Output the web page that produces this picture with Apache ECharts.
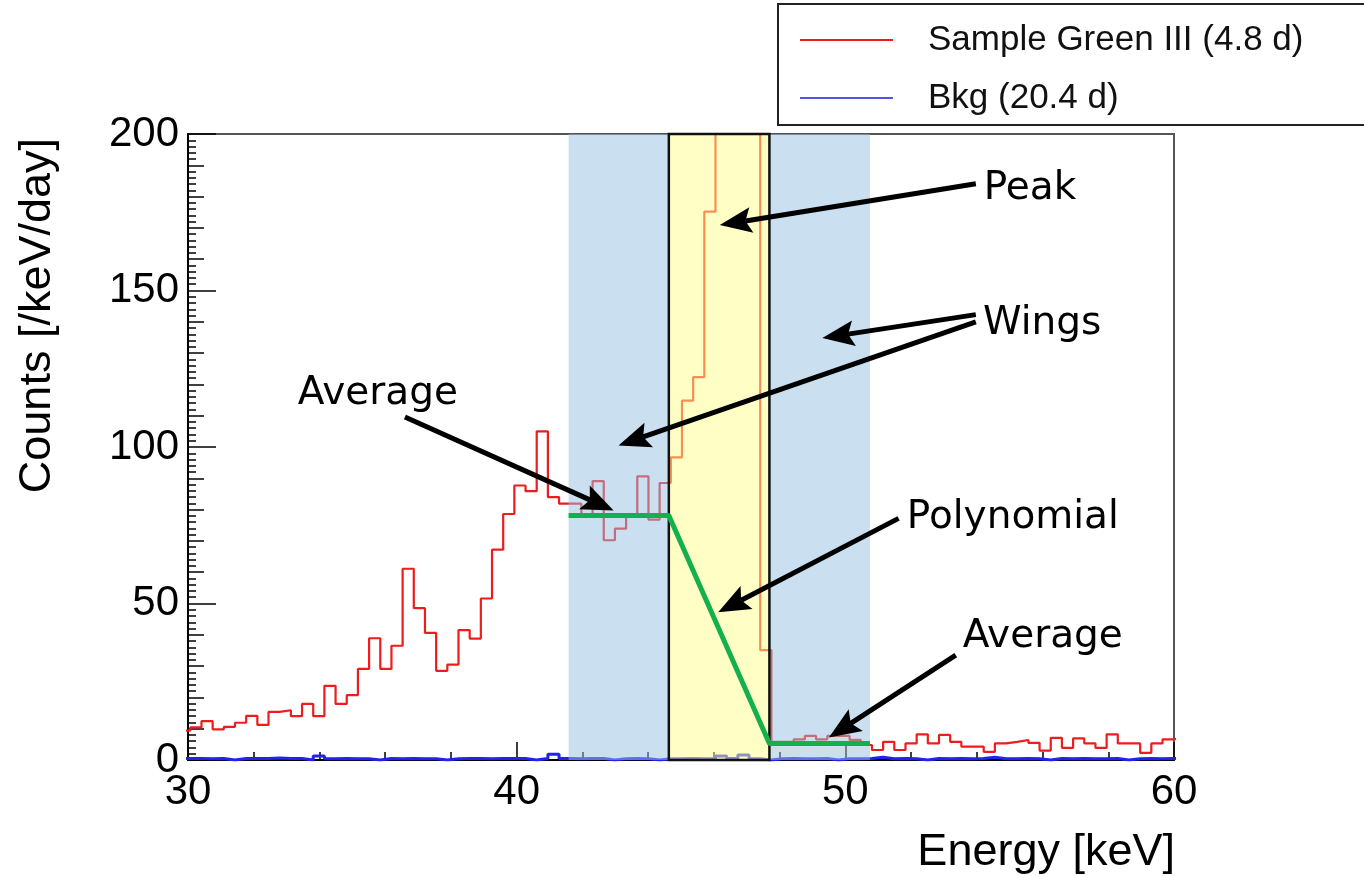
<!DOCTYPE html>
<html>
<head>
<meta charset="utf-8">
<script src="https://cdn.jsdelivr.net/npm/echarts@6/dist/echarts.min.js"></script>
<style>
  html, body { margin: 0; padding: 0; background: #fff; }
  #chart { width: 1364px; height: 876px; }
</style>
</head>
<body>
<div id="chart"></div>
<script>
// Histogram binning (keV)
const binStart = 29.73;
const binWidth = 0.34;

// Sample spectrum, counts per keV per day, one value per bin
const sampleCounts = [
  9.4, 10.4, 12.4, 9.8, 10.6, 11.9, 14.1, 11.2, 15.4, 15.9,
  14.0, 17.9, 14.0, 23.7, 17.9, 20.7, 29.1, 38.9, 29.1, 36.5,
  61.1, 48.5, 40.6, 28.5, 30.5, 41.5, 38.8, 51.6, 67.2, 78.6,
  87.7, 85.9, 105.0, 84.0, 81.9, 81.9, 78.6, 89.1, 70.2, 73.9,
  78.6, 90.6, 76.8, 88.5, 96.7, 114.8, 122.3, 175.2, 260, 330,
  320, 240, 35.1, 5.8, 5.8, 6.6, 7.7, 6.6, 7.7, 7.7,
  6.4, 4.8, 3.2, 5.8, 3.2, 5.3, 8.2, 5.3, 8.0, 5.8,
  4.3, 4.3, 2.6, 5.3, 5.8, 6.4, 5.5, 3.0, 7.1, 3.9,
  6.9, 5.3, 3.9, 8.2, 5.3, 5.3, 2.3, 5.3, 6.6, 7.2
];

// Background spectrum, same binning
const bkgCounts = [
  0.5, 0.5, 0.4, 0.5, 0.0, 0.5, 0.5, 0.5, 0.6, 0.5,
  0.5, 0.0, 1.3, 0.4, 0.5, 0.4, 0.4, 0.0, 0.5, 0.4,
  0.5, 0.4, 0.4, 0.0, 0.4, 0.5, 0.5, 0.4, 0.5, 0.5,
  0.5, 0.0, 0.5, 1.8, 0.5, 0.4, 0.5, 0.5, 0.0, 0.4,
  0.5, 0.4, 0.0, 0.4, 0.4, 0.5, 0.4, 0.5, 1.3, 0.5,
  1.6, 0.4, 0.0, 0.4, 0.5, 0.4, 0.4, 0.5, 0.0, 0.4,
  0.4, 0.5, 0.9, 0.4, 0.5, 0.4, 0.0, 0.5, 0.4, 0.5,
  0.4, 0.5, 0.9, 0.4, 0.4, 0.5, 0.4, 0.0, 0.5, 0.4,
  0.5, 0.4, 0.4, 0.5, 0.0, 0.4, 0.5, 0.4, 0.5, 0.4
];

const sampleName = 'Sample Green III (4.8 d)';
const bkgName = 'Bkg (20.4 d)';

// Energy windows (keV)
const wingLow = [41.58, 44.63];
const peakWindow = [44.63, 47.69];
const wingHigh = [47.69, 50.75];

// Background estimate under the peak: averages in the wings joined by a polynomial
const polyX = [41.58, 44.63, 47.69, 50.75];
const polyY = [78.1, 78.1, 5.3, 5.3];

// Annotation labels and arrows, in data coordinates [keV, counts]
const noteText = ['Peak', 'Wings', 'Average', 'Polynomial', 'Average'];
const noteAt = [[54.21, 182.5], [54.19, 139.4], [33.34, 117.1], [51.87, 77.5], [53.57, 39.2]];
const arrowFrom = [[53.97, 184.1], [53.97, 142.3], [53.97, 140.0], [36.60, 109.6], [51.62, 77.2], [53.36, 33.5]];
const arrowTo = [[46.18, 170.9], [49.30, 134.8], [43.10, 100.5], [42.95, 79.7], [46.13, 47.2], [49.50, 7.2]];

function stepData(counts) {
  const pts = counts.map((v, i) => [binStart + i * binWidth, v]);
  pts.push([binStart + counts.length * binWidth, counts[counts.length - 1]]);
  return pts;
}

const rootFont = '"Liberation Sans", Arial, sans-serif';
const noteFont = '"DejaVu Sans", sans-serif';

const chart = echarts.init(document.getElementById('chart'), null, { renderer: 'canvas' });

chart.setOption({
  animation: false,
  backgroundColor: '#fff',
  grid: {
    left: 188, right: 190, top: 134, bottom: 116,
    containLabel: false, outerBoundsMode: 'none',
    show: true, borderColor: '#555', borderWidth: 2, backgroundColor: 'transparent'
  },
  legend: {
    data: [sampleName, bkgName],
    orient: 'vertical',
    left: 778, top: 4,
    icon: 'rect',
    itemWidth: 93, itemHeight: 2, itemGap: 18,
    padding: [16, 90, 7, 22],
    borderColor: '#222', borderWidth: 2, backgroundColor: '#fff',
    selectedMode: false,
    textStyle: { fontSize: 35, fontFamily: rootFont, color: '#111', lineHeight: 40, padding: [0, 0, 0, 30] }
  },
  xAxis: {
    type: 'value', min: 30, max: 60, interval: 10,
    axisLine: { show: true, onZero: false, lineStyle: { color: '#000', width: 2 } },
    axisTick: { show: true, inside: true, length: 18, lineStyle: { color: '#000', width: 1.5 } },
    minorTick: { show: true, splitNumber: 5, length: 8, lineStyle: { color: '#000', width: 1.5 } },
    axisLabel: { color: '#000', fontSize: 42, fontFamily: rootFont, margin: 11 },
    splitLine: { show: false }
  },
  yAxis: [
    {
      type: 'value', min: 0, max: 200, interval: 50, position: 'left',
      axisLine: { show: true, onZero: false, lineStyle: { color: '#000', width: 2 } },
      axisTick: { show: true, inside: true, length: 28, lineStyle: { color: '#000', width: 1.5 } },
      axisLabel: { color: '#000', fontSize: 42, fontFamily: rootFont, margin: 9 },
      splitLine: { show: false }
    },
    {
      type: 'value', min: 0, max: 200, interval: 10, position: 'left',
      axisLine: { show: false },
      axisTick: { show: true, inside: true, length: 16, lineStyle: { color: '#000', width: 1.5 } },
      minorTick: { show: true, splitNumber: 5, length: 8, lineStyle: { color: '#000', width: 1.5 } },
      axisLabel: { show: false },
      splitLine: { show: false }
    }
  ],
  series: [
    {
      name: bkgName, type: 'line', step: 'end', symbol: 'none',
      data: stepData(bkgCounts), clip: true, z: 2,
      lineStyle: { color: '#2222f0', width: 3 }, itemStyle: { color: '#5555e0' }
    },
    {
      name: sampleName, type: 'line', step: 'end', symbol: 'none',
      data: stepData(sampleCounts), clip: true, z: 2,
      lineStyle: { color: '#ee1c1c', width: 2.2 }, itemStyle: { color: '#ee1c1c' }
    },
    {
      name: 'windows', type: 'line', data: [], z: 3,
      markArea: {
        silent: true, z: 3,
        data: [
          [{ xAxis: wingLow[0], itemStyle: { color: 'rgba(150,192,226,0.5)' } }, { xAxis: wingLow[1] }],
          [{ xAxis: wingHigh[0], itemStyle: { color: 'rgba(150,192,226,0.5)' } }, { xAxis: wingHigh[1] }],
          [{ xAxis: peakWindow[0], itemStyle: { color: 'rgba(255,255,140,0.5)', borderColor: '#111', borderWidth: 2.5 } }, { xAxis: peakWindow[1] }]
        ]
      }
    },
    {
      name: 'estimate', type: 'line', symbol: 'none', z: 5,
      data: polyX.map((x, i) => [x, polyY[i]]),
      lineStyle: { color: '#14b04e', width: 5 }, itemStyle: { color: '#14b04e' }
    }
  ],
  graphic: [
    {
      type: 'text', x: 38, y: 138, rotation: Math.PI / 2, z: 100,
      style: { text: 'Counts [/keV/day]', fontSize: 45, fontFamily: rootFont, fill: '#000', align: 'right', verticalAlign: 'middle' }
    },
    {
      type: 'text', x: 1175, y: 853, z: 100,
      style: { text: 'Energy [keV]', fontSize: 45, fontFamily: rootFont, fill: '#000', align: 'right', verticalAlign: 'middle' }
    }
  ]
});

// Annotation arrows and labels placed through the axes
const toPx = p => chart.convertToPixel({ xAxisIndex: 0, yAxisIndex: 0 }, p);
const extra = [];
arrowFrom.forEach((from, i) => {
  const s = toPx(from), t = toPx(arrowTo[i]);
  const dx = t[0] - s[0], dy = t[1] - s[1];
  const len = Math.hypot(dx, dy);
  const ux = dx / len, uy = dy / len, nx = -uy, ny = ux;
  const L = 32, W = 13, notch = 6;
  const back = [t[0] - ux * L, t[1] - uy * L];
  const mid = [t[0] - ux * (L - notch), t[1] - uy * (L - notch)];
  extra.push({
    type: 'polyline', z: 110, silent: true,
    shape: { points: [s, mid] },
    style: { stroke: '#000', lineWidth: 5, fill: null }
  });
  extra.push({
    type: 'polygon', z: 111, silent: true,
    shape: { points: [t, [back[0] + nx * W, back[1] + ny * W], mid, [back[0] - nx * W, back[1] - ny * W]] },
    style: { fill: '#000' }
  });
});
noteText.forEach((txt, i) => {
  const p = toPx(noteAt[i]);
  extra.push({
    type: 'text', x: p[0], y: p[1], z: 120, silent: true,
    style: { text: txt, fontSize: 39, fontFamily: noteFont, fill: '#000', align: 'left', verticalAlign: 'middle' }
  });
});
const opt = chart.getOption();
chart.setOption({ graphic: opt.graphic[0].elements.concat(extra) });
</script>
</body>
</html>
